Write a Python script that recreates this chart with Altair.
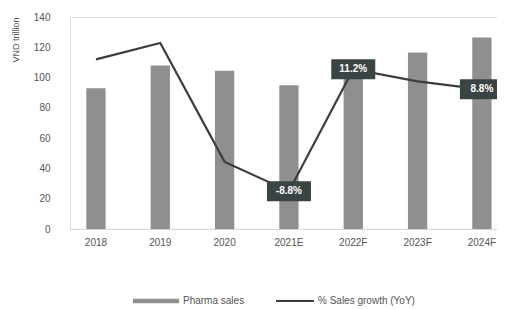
import altair as alt
import pandas as pd

years = ["2018", "2019", "2020", "2021E", "2022F", "2023F", "2024F"]
sales = [93, 108, 104.5, 95, 105, 116.5, 126.5]
growth = [12.8, 15.5, -4.0, -8.8, 11.2, 9.2, 7.9]
label_years = ["2021E", "2022F", "2024F"]
label_texts = ["-8.8%", "11.2%", "8.8%"]
series_names = ["Pharma sales", "% Sales growth (YoY)"]

df = pd.DataFrame({"year": years, "sales": sales, "growth": growth})
df["s1"] = series_names[0]
df["s2"] = series_names[1]
lab = pd.DataFrame({
    "year": label_years,
    "growth": [growth[years.index(y)] for y in label_years],
    "text": label_texts,
})

FONT = "Liberation Sans"
xscale = alt.Scale(domain=years, paddingInner=0.7, paddingOuter=0.169, align=0.75)
gscale = alt.Scale(domain=[-15, 19.75], nice=False, zero=False)

x = alt.X("year:N", scale=xscale, sort=years, title=None,
          axis=alt.Axis(labelAngle=0, ticks=False, domainColor="#cfcfcf",
                        domainDash=[2, 2], labelPadding=8, labelFontSize=10,
                        labelColor="#555555", labelFont=FONT))

bars = alt.Chart(df).mark_bar(color="#8f8f8f").encode(
    x=x,
    y=alt.Y("sales:Q", scale=alt.Scale(domain=[0, 140], nice=False),
            title="VND trillion",
            axis=alt.Axis(values=[0, 20, 40, 60, 80, 100, 120, 140], grid=False,
                          domain=False, ticks=False, labelPadding=20,
                          labelFontSize=10, labelColor="#555555", labelFont=FONT,
                          titleFontSize=9, titleFont=FONT, titleColor="#555555",
                          titleFontWeight="normal", titleX=-55, titleY=0,
                          titleAngle=-90, titleAlign="right",
                          titleBaseline="middle")),
    color=alt.Color("s1:N",
                    scale=alt.Scale(domain=[series_names[0]], range=["#8f8f8f"]),
                    legend=alt.Legend(orient="none", legendX=62, legendY=260,
                                      title=None, symbolType="M-1,-0.1H1V0.1H-1Z",
                                      symbolSize=2116, labelFontSize=10,
                                      labelColor="#555555", labelFont=FONT,
                                      labelOffset=3, padding=0)),
)

line = alt.Chart(df).mark_line(strokeWidth=2.2).encode(
    x=alt.X("year:N", scale=xscale, sort=years),
    y=alt.Y("growth:Q", scale=gscale, axis=None),
    stroke=alt.Stroke("s2:N",
                      scale=alt.Scale(domain=[series_names[1]], range=["#3c3c3c"]),
                      legend=alt.Legend(orient="none", legendX=205, legendY=264,
                                        title=None, symbolType="stroke",
                                        symbolSize=1444, symbolStrokeWidth=2,
                                        labelFontSize=10, labelColor="#555555",
                                        labelFont=FONT, labelOffset=3, padding=0)),
)

boxes = alt.Chart(lab).mark_point(
    shape="M-2.2,-1H2.2V1H-2.2Z", size=400, filled=True, opacity=1,
    color="#3a4444", strokeWidth=0,
).encode(
    x=alt.X("year:N", scale=xscale, sort=years),
    y=alt.Y("growth:Q", scale=gscale, axis=None),
)

texts = alt.Chart(lab).mark_text(
    color="white", fontSize=10, fontWeight="bold", font=FONT,
).encode(
    x=alt.X("year:N", scale=xscale, sort=years),
    y=alt.Y("growth:Q", scale=gscale, axis=None),
    text="text:N",
)

growth_layer = alt.layer(line, boxes, texts)

chart = alt.layer(bars, growth_layer).resolve_scale(
    y="independent", color="independent", stroke="independent"
).properties(
    width=427, height=212,
    autosize=alt.AutoSizeParams(type="none"),
    padding={"left": 62, "top": 9, "right": 0, "bottom": 80},
).configure_view(stroke=None).configure(background="white")

chart.save("out.html", embed_options={"renderer": "svg", "actions": False})
